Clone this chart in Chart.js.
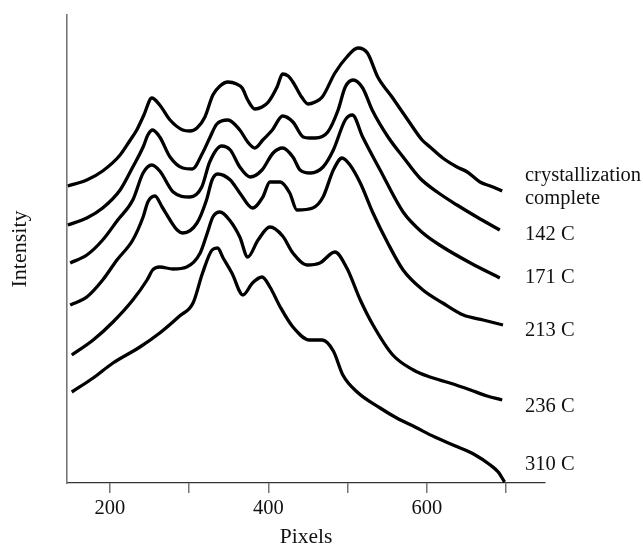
<!DOCTYPE html>
<html>
<head>
<meta charset="utf-8">
<script src="https://cdn.jsdelivr.net/npm/chart.js@4.4.1/dist/chart.umd.min.js"></script>
<style>
  body { margin: 0; background: #fff; }
</style>
</head>
<body>
<canvas id="chart" width="643" height="546"></canvas>
<script>
// x positions are in "pixels" of the detector, y is intensity (arbitrary, curves are stacked)
const labels = ["crystallization\ncomplete", "142 C", "171 C", "213 C", "236 C", "310 C"];

const x1 = [147, 171, 191, 213, 225, 234, 243, 253, 263, 276, 292, 301, 310, 320, 330, 339, 349, 360, 367, 374, 383, 392, 400, 411, 418, 425, 431, 442, 450, 459, 468, 484, 499, 513, 525, 538, 556, 576, 594, 604, 620, 638, 651, 667, 680, 695];
const y1 = [297, 303, 312, 328, 342, 353, 368, 385, 378, 363, 353, 352, 355, 366, 388, 397, 401, 399, 395, 383, 374, 376, 381, 396, 409, 407, 401, 386, 379, 381, 386, 410, 426, 435, 430, 406, 386, 363, 343, 336, 325, 316, 311, 301, 297, 292];

const x2 = [147, 171, 191, 213, 229, 242, 248, 254, 263, 276, 292, 304, 317, 326, 335, 349, 364, 374, 383, 393, 405, 418, 431, 444, 452, 459, 475, 488, 497, 507, 519, 531, 551, 570, 591, 613, 638, 663, 692];
const y2 = [258, 265, 275, 293, 316, 336, 348, 353, 346, 326, 315, 314, 330, 345, 359, 363, 353, 341, 335, 343, 353, 367, 361, 346, 345, 345, 351, 373, 396, 403, 395, 373, 346, 326, 305, 291, 278, 266, 253];

const x3 = [150, 171, 191, 210, 229, 242, 253, 263, 280, 301, 316, 326, 341, 352, 364, 377, 392, 406, 418, 431, 440, 453, 469, 482, 497, 506, 519, 541, 570, 595, 620, 655, 692];
const y3 = [220, 228, 243, 263, 283, 310, 318, 312, 291, 286, 296, 321, 337, 333, 316, 306, 313, 330, 335, 326, 313, 310, 316, 333, 363, 368, 346, 313, 271, 250, 236, 220, 205];

const x4 = [150, 171, 191, 209, 229, 242, 248, 257, 266, 276, 285, 292, 310, 322, 329, 336, 352, 364, 380, 393, 402, 415, 427, 436, 456, 469, 482, 493, 503, 516, 532, 550, 570, 595, 620, 646, 671, 696];
const y4 = [178, 186, 203, 223, 243, 266, 281, 287, 276, 263, 253, 250, 260, 283, 303, 309, 303, 290, 275, 286, 301, 301, 290, 273, 275, 286, 313, 325, 318, 300, 270, 241, 213, 193, 180, 168, 163, 158];

const x5 = [152, 179, 204, 229, 247, 254, 263, 280, 297, 314, 323, 330, 339, 351, 364, 374, 387, 402, 418, 431, 449, 465, 484, 499, 516, 532, 557, 583, 604, 629, 655, 676, 695];
const y5 = [128, 143, 161, 183, 203, 213, 216, 214, 216, 230, 250, 266, 271, 263, 246, 226, 243, 256, 247, 230, 218, 220, 231, 215, 183, 158, 128, 113, 106, 100, 93, 87, 83];

const x6 = [152, 179, 204, 238, 263, 288, 305, 317, 329, 336, 343, 354, 368, 380, 392, 402, 415, 431, 452, 468, 482, 494, 512, 541, 562, 585, 610, 636, 661, 680, 690, 698];
const y6 = [91, 105, 120, 136, 150, 167, 180, 210, 233, 235, 225, 210, 188, 200, 206, 196, 176, 156, 143, 143, 132, 108, 91, 75, 65, 56, 46, 37, 28, 18, 11, 1];

const xTicks = [200, 300, 400, 500, 600, 700];
const xLabels = [200, 400, 600];

const allX = [x1, x2, x3, x4, x5, x6];
const allY = [y1, y2, y3, y4, y5, y6];

// where the curve names sit (canvas px), next to the right end of each curve
const labelX = 525;
const labelY = [187, 235, 278, 331, 407, 465];

const serif = "'Liberation Serif', 'Times New Roman', serif";

const datasets = allX.map(function (xs, i) {
  return {
    label: labels[i],
    data: xs.map(function (x, j) { return { x: x, y: allY[i][j] }; }),
    borderColor: "#000",
    borderWidth: 3.3,
    pointRadius: 0,
    fill: false,
    cubicInterpolationMode: "monotone",
  };
});

const curveLabels = {
  id: "curveLabels",
  afterDraw(chart) {
    const ctx = chart.ctx;
    ctx.save();
    ctx.fillStyle = "#111";
    ctx.font = "20.5px " + serif;
    ctx.textBaseline = "middle";
    ctx.textAlign = "left";
    labels.forEach(function (t, i) {
      const lines = t.split("\n");
      lines.forEach(function (line, k) {
        const y = labelY[i] + (k - (lines.length - 1) / 2) * 23;
        ctx.fillText(line, labelX, y);
      });
    });
    ctx.restore();
  },
};

const place = document.getElementById("chart");
const chart = new Chart(place, {
  type: "line",
  data: { datasets: datasets },
  plugins: [curveLabels],
  options: {
    responsive: false,
    animation: false,
    devicePixelRatio: 1,
    layout: { padding: { left: 0, top: 15, right: 98, bottom: 0 } },
    plugins: { legend: { display: false }, tooltip: { enabled: false } },
    scales: {
      x: {
        type: "linear",
        min: 146,
        max: 749,
        afterFit(scale) { scale.height = 63; },
        afterBuildTicks(scale) {
          scale.ticks = xTicks.map(function (v) { return { value: v }; });
        },
        ticks: {
          color: "#111",
          font: { family: serif, size: 20.5 },
          padding: 3,
          maxRotation: 0,
          autoSkip: false,
          callback: function (v) { return xLabels.includes(v) ? String(v) : ""; },
        },
        grid: { drawOnChartArea: false, drawTicks: true, tickLength: 10, color: "#777", lineWidth: 1.5 },
        border: { display: true, color: "#333", width: 1.2 },
        title: {
          display: true,
          text: "Pixels",
          color: "#111",
          font: { family: serif, size: 21.5, lineHeight: 0.8 },
          padding: 0,
        },
      },
      y: {
        min: 0,
        max: 468,
        afterFit(scale) { scale.width = 67; },
        ticks: { display: false },
        grid: { display: false },
        border: { display: true, color: "#777", width: 1.6 },
        title: {
          display: true,
          text: "Intensity",
          color: "#111",
          font: { family: serif, size: 22 },
          padding: { top: 7, bottom: 0 },
        },
      },
    },
  },
});
</script>
</body>
</html>
